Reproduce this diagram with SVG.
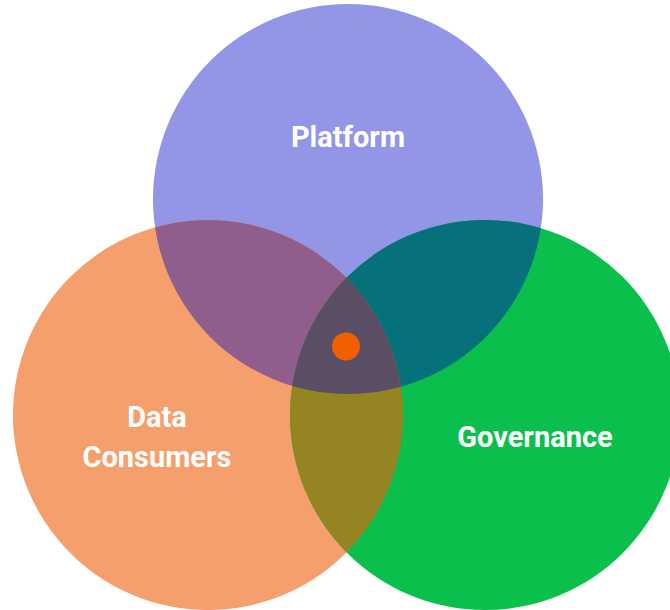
<svg xmlns="http://www.w3.org/2000/svg" width="670" height="610" viewBox="0 0 670 610">
  <style>
    .lbl { font-family: Roboto, "Liberation Sans", sans-serif; font-weight: bold; font-size: 29px; fill: #ffffff; text-anchor: middle; }
  </style>
  <defs>
    <clipPath id="clipP"><circle cx="348" cy="199" r="195"/></clipPath>
    <clipPath id="clipC"><circle cx="208" cy="415" r="195"/></clipPath>
    <clipPath id="clipG"><circle cx="485" cy="415" r="195"/></clipPath>
  </defs>
  <rect width="670" height="610" fill="#ffffff"/>
  <g id="platform">
    <circle cx="348" cy="199" r="195" fill="#9396E6"/>
  </g>
  <g id="data-consumers">
    <circle cx="208" cy="415" r="195" fill="#F59F6C"/>
  </g>
  <g id="governance">
    <circle cx="485" cy="415" r="195" fill="#0BBF4D"/>
  </g>
  <g id="overlaps">
    <circle cx="208" cy="415" r="195" fill="#8F5E8D" clip-path="url(#clipP)"/>
    <circle cx="485" cy="415" r="195" fill="#06717B" clip-path="url(#clipP)"/>
    <circle cx="485" cy="415" r="195" fill="#958422" clip-path="url(#clipC)"/>
    <g clip-path="url(#clipC)">
      <circle cx="485" cy="415" r="195" fill="#5A4E64" clip-path="url(#clipP)"/>
    </g>
  </g>
  <g id="center-dot">
    <circle cx="346" cy="346.5" r="14" fill="#F25F00"/>
  </g>
  <g id="labels">
    <text class="lbl" x="348" y="147">Platform</text>
    <text class="lbl" x="157" y="427">Data</text>
    <text class="lbl" x="157" y="467">Consumers</text>
    <text class="lbl" x="535" y="447">Governance</text>
  </g>
</svg>
